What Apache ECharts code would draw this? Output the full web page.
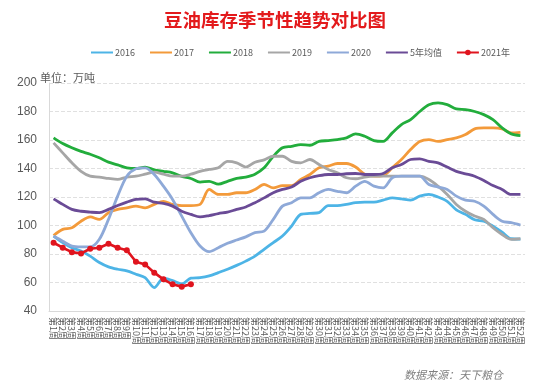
<!DOCTYPE html>
<html>
<head>
<meta charset="utf-8">
<script src="https://cdn.jsdelivr.net/npm/echarts@6/dist/echarts.min.js"></script>
<style>
  html, body { margin: 0; padding: 0; background: #fff; }
  #chart { width: 550px; height: 392px; }
</style>
</head>
<body>
<div id="chart"></div>
<script>
// 豆油库存季节性 对比

let weeks = [];
for (let i = 1; i <= 52; i++) {
  weeks.push('第' + i + '周');
}

let y2016 = [92.6, 88, 84.4, 82.1, 78.5, 74, 71, 69.3, 68.1, 65.8, 63.4, 56.4, 63, 61.3, 59, 63,
  63.4, 64.6, 66.9, 69.3, 72, 75, 78.5, 83.3, 88, 92.6, 99.6, 107.8, 108.5, 109, 114, 114,
  114.8, 116, 116.4, 116.4, 117.8, 119.4, 118.7, 117.8, 120.6, 121.8, 120, 117, 111, 107.8,
  104, 103, 99.5, 95.3, 90.7, 90.5];
let y2017 = [93, 97.3, 98.4, 103, 106, 104.3, 109, 111.3, 112.4, 113.6, 112.4, 114.8, 117, 114.8,
  114, 114, 114.8, 125.3, 121.8, 121.8, 123, 123, 125.3, 128.8, 126.4, 128, 128, 132.3, 135.8,
  140.5, 141.6, 143.5, 143.5, 141, 136, 134.6, 135, 140.5, 146.3, 153.3, 159, 160.3, 159, 160.3,
  161.5, 163.8, 167.8, 168.5, 168.5, 167.8, 165, 165.4];
let y2018 = [161.5, 157.5, 154.5, 152, 150, 147.5, 144.5, 142.5, 140.5, 140, 141, 139, 138, 137,
  134.5, 133, 130.5, 131, 129, 131, 133, 134, 136, 140.5, 148.5, 154.5, 155.6, 156.8, 156.3, 159,
  159.6, 160.3, 161.5, 164.3, 162.6, 159.6, 159, 165, 170.8, 174.3, 180, 184.8, 186, 184.8, 181.8,
  181.3, 180, 177.8, 174.3, 168.5, 164.3, 163.1];
let y2019 = [158, 151, 144, 138, 134.6, 134, 133, 132.3, 134, 134.6, 136, 137.5, 136, 134.6, 134.6,
  136, 138, 139.3, 140.5, 145, 144, 141, 144.4, 146, 148.6, 148.6, 145, 144, 146.3, 142.8, 139.3,
  137, 133.5, 132.8, 134, 134.6, 134.6, 134.6, 134.6, 134.6, 134.6, 132.3, 127.6, 121.8, 114.8,
  110, 106.6, 104.3, 98.4, 93.7, 90.3, 90.7];
let y2020 = [92.6, 89, 85.6, 85, 85, 90.3, 104.3, 120.6, 134.6, 139.8, 140.5, 135.8, 127.6, 118.3,
  106.6, 94.9, 85.6, 81.6, 84.4, 87.5, 89.8, 92, 95, 96, 104.3, 113.6, 116, 119.4, 119.4, 123,
  125.3, 124, 123, 127.6, 131, 127.6, 126.4, 133.5, 134.6, 134.6, 134.6, 128.8, 127, 125.3, 120.6,
  117.8, 117, 113.6, 107.8, 103, 102, 100.3];
let avg5 = [118.7, 114.8, 111.3, 110, 109.4, 109, 111.3, 114, 116.4, 118.3, 118.7, 116.4, 115.5,
  113.6, 110, 107.8, 106, 107, 108.4, 109.4, 111.3, 113, 116, 119.4, 123, 125.3, 127, 131, 133.5,
  135, 135.8, 135.8, 136.3, 136.5, 135.8, 135.8, 136.5, 140.5, 142.8, 146.3, 146.8, 145, 144, 141,
  138, 136.3, 134.6, 131.6, 128, 125.3, 121.8, 121.8];
let y2021 = [87.9, 84.4, 81.3, 80.4, 83.7, 84.4, 87.2, 84.4, 82.7, 74.6, 72.7, 66.9, 62.2, 58.7,
  57.1, 58.7];

let names = ['2016', '2017', '2018', '2019', '2020', '5年均值', '2021年'];
let colors = ['#4db4e6', '#f39a3a', '#22ad3c', '#a6a6a6', '#8ea9d8', '#6a4b96', '#e0141e'];

function initChart(id) {
  let myChart = echarts.init(document.getElementById(id));
  let data = [y2016, y2017, y2018, y2019, y2020, avg5];
  let series = data.map(function (d, i) {
    return {
      name: names[i],
      type: 'line',
      smooth: 0.3,
      symbol: 'none',
      lineStyle: { width: 2.8, color: colors[i] },
      itemStyle: { color: colors[i] },
      data: d
    };
  });
  series.push({
    name: names[6],
    type: 'line',
    symbol: 'circle',
    symbolSize: 6,
    z: 5,
    lineStyle: { width: 2.6, color: colors[6] },
    itemStyle: { color: colors[6] },
    data: y2021
  });

  // 图例里前六条只画线，不画圆点
  let legendData = names.map(function (n, i) {
    if (i < 6) return { name: n, itemStyle: { opacity: 0 } };
    return { name: n };
  });

  let option = {
    backgroundColor: '#fff',
    animation: false,
    title: [{
      text: '豆油库存季节性趋势对比图',
      left: 'center',
      top: 6,
      textStyle: {
        color: '#e31a1c',
        fontSize: 18.5,
        fontWeight: 'bold',
        fontFamily: 'Noto Sans CJK SC'
      }
    }, {
      text: '单位：万吨',
      left: 35,
      top: 67,
      textStyle: { color: '#595959', fontSize: 11, fontWeight: 'normal', fontFamily: 'Noto Sans CJK SC' }
    }, {
      text: '数据来源：天下粮仓',
      right: 42,
      top: 364,
      textStyle: { color: '#7f7f7f', fontSize: 11, fontStyle: 'italic', fontWeight: 'normal', fontFamily: 'Noto Sans CJK SC' }
    }],
    legend: {
      data: legendData,
      top: 43,
      left: 85,
      itemWidth: 22,
      itemHeight: 7,
      itemGap: 14,
      textStyle: { color: '#595959', fontSize: 9, padding: [0, 0, 0, -3], fontFamily: 'Noto Sans CJK SC' }
    },
    grid: { left: 49, right: 25, top: 83, bottom: 81 },
    xAxis: {
      type: 'category',
      data: weeks,
      boundaryGap: true,
      axisLine: { lineStyle: { color: '#d9d9d9' } },
      axisTick: { interval: 1, lineStyle: { color: '#d9d9d9' } },
      axisLabel: {
        interval: 0,
        rotate: -90,
        fontSize: 9,
        color: '#595959',
        margin: 6,
        fontFamily: 'Noto Sans CJK SC'
      }
    },
    yAxis: {
      type: 'value',
      min: 40,
      max: 200,
      interval: 20,
      axisLine: { show: true, lineStyle: { color: '#d9d9d9' } },
      axisTick: { show: false },
      axisLabel: { color: '#595959', fontSize: 12, margin: 12 },
      splitLine: { lineStyle: { color: '#e0e0e0', type: 'dashed' } }
    },
    series: series
  };
  myChart.setOption(option);
}

initChart('chart');
</script>
</body>
</html>
